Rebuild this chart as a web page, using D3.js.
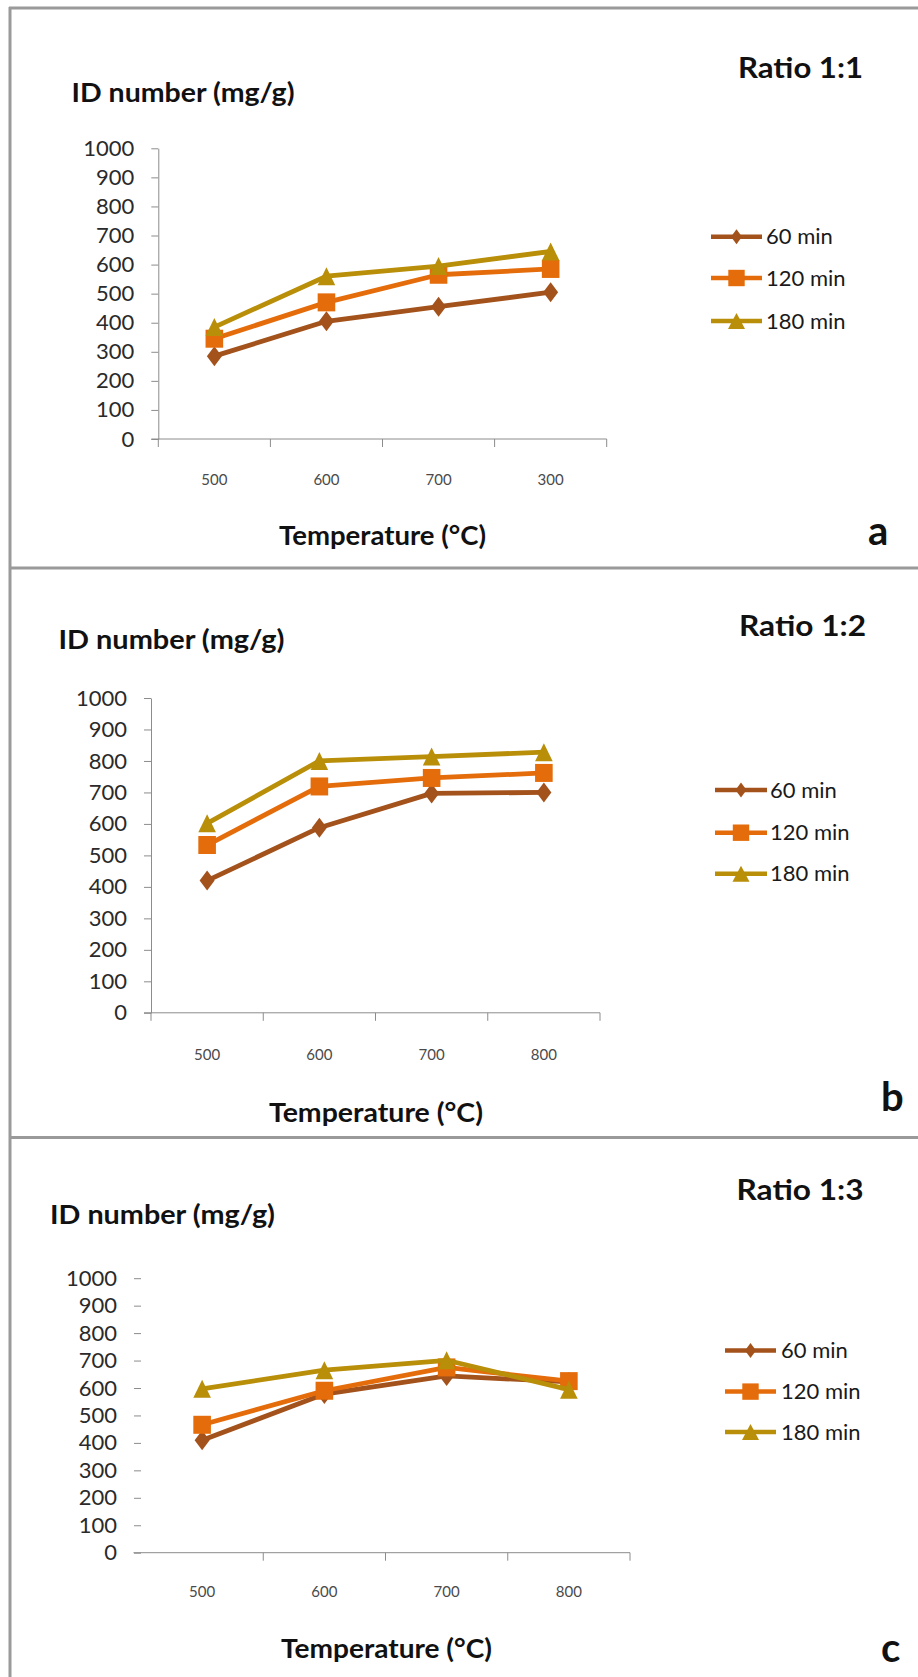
<!DOCTYPE html>
<html>
<head>
<meta charset="utf-8">
<script src="https://cdn.jsdelivr.net/npm/d3@7"></script>
<style>
  html, body { margin: 0; padding: 0; background: #fff; }
  svg { display: block; }
  text { font-family: Lato, "Open Sans", "Liberation Sans", sans-serif; }
</style>
</head>
<body>
<svg id="chart" width="918" height="1677"></svg>
<script>
// ---------- data ----------
const seriesNames = ["60 min", "120 min", "180 min"];
const seriesColors = ["#A3521B", "#E46C0A", "#B98E08"];
const seriesSymbols = ["diamond", "square", "triangle"];
const yTicks = [0, 100, 200, 300, 400, 500, 600, 700, 800, 900, 1000];

const categoriesA = ["500", "600", "700", "300"];
const categoriesB = ["500", "600", "700", "800"];
const categoriesC = ["500", "600", "700", "800"];

const a60  = [285, 405, 455, 505];
const a120 = [345, 470, 565, 585];
const a180 = [385, 560, 595, 645];

const b60  = [420, 588, 697, 700];
const b120 = [533, 719, 746, 762];
const b180 = [602, 800, 814, 828];

const c60  = [410, 578, 644, 622];
const c120 = [466, 590, 675, 625];
const c180 = [597, 665, 701, 594];

const titles = ["Ratio 1:1", "Ratio 1:2", "Ratio 1:3"];
const panelLetters = ["a", "b", "c"];
const yTitle = "ID number (mg/g)";
const xTitle = "Temperature (\u00B0C)";

// ---------- layout ----------
const panels = [
  { cats: categoriesA, data: [a60, a120, a180],
    x0: 158.3, x1: 606.7, axisStart: 151.3, yTop: 148.3, yBot: 439, showYLine: true, firstTick: true,
    xLabelY: 480, title: {x: 738, y: 78, w: 125}, yt: {x: 71.5, y: 101.5, w: 223},
    xt: {x: 279, y: 545, w: 207}, letter: {x: 868, y: 545},
    leg: {x0: 711, x1: 762, tx: 766, rows: [236.7, 278, 321]} },
  { cats: categoriesB, data: [b60, b120, b180],
    x0: 151, x1: 600, axisStart: 144, yTop: 698, yBot: 1012.8, showYLine: true, firstTick: true,
    xLabelY: 1055, title: {x: 739, y: 636, w: 127}, yt: {x: 58.5, y: 648.5, w: 226},
    xt: {x: 269, y: 1122, w: 214}, letter: {x: 881, y: 1111},
    leg: {x0: 715, x1: 767, tx: 770, rows: [790, 832.7, 873.7]} },
  { cats: categoriesC, data: [c60, c120, c180],
    x0: 141, x1: 630, axisStart: 133.5, yTop: 1278.2, yBot: 1552.7, showYLine: false, firstTick: false,
    xLabelY: 1592, title: {x: 736.5, y: 1200, w: 127}, yt: {x: 50, y: 1223.5, w: 225},
    xt: {x: 281, y: 1658, w: 211}, letter: {x: 881, y: 1662},
    leg: {x0: 725, x1: 776, tx: 781, rows: [1350.4, 1391.6, 1432]} }
];

const svg = d3.select("#chart");

// frame
const frameColor = "#9a9a9a";
svg.append("line").attr("x1", 10).attr("x2", 10).attr("y1", 7).attr("y2", 1677)
  .attr("stroke", frameColor).attr("stroke-width", 3);
[8, 568, 1137.5].forEach(yy => {
  svg.append("line").attr("x1", 9).attr("x2", 918).attr("y1", yy).attr("y2", yy)
    .attr("stroke", frameColor).attr("stroke-width", 3);
});

// marker shapes (half-width, half-height)
function markerPath(kind, hw, hh) {
  const p = d3.path();
  if (kind === "diamond") {
    p.moveTo(0, -hh); p.lineTo(hw, 0); p.lineTo(0, hh); p.lineTo(-hw, 0); p.closePath();
  } else if (kind === "square") {
    p.rect(-hw, -hh, 2 * hw, 2 * hh);
  } else {
    p.moveTo(0, -hh); p.lineTo(hw, hh); p.lineTo(-hw, hh); p.closePath();
  }
  return p.toString();
}
const markerDims = { diamond: [7.5, 10], square: [8.8, 9], triangle: [8.8, 9] };
const legendDims = { diamond: [5.5, 7.5], square: [8.2, 8.2], triangle: [8.5, 8] };

panels.forEach((p, pi) => {
  const g = svg.append("g");
  const x = d3.scaleBand().domain(p.cats).range([p.x0, p.x1]).paddingInner(0).paddingOuter(0);
  const y = d3.scaleLinear().domain([0, 1000]).range([p.yBot, p.yTop]);
  const cx = c => x(c) + x.bandwidth() / 2;

  // y axis
  const yAxis = d3.axisLeft(y).tickValues(yTicks).tickFormat(d3.format("d"))
    .tickSize(7).tickSizeOuter(0).tickPadding(17);
  const ya = g.append("g").attr("transform", `translate(${p.x0},0)`).call(yAxis);
  ya.selectAll("line").attr("stroke", "#8c8c8c");
  ya.select(".domain").attr("stroke", "#8c8c8c").attr("display", p.showYLine ? null : "none");
  ya.selectAll("text").attr("font-size", 22).attr("fill", "#2a2a2a")
    .attr("font-family", "Lato, 'Open Sans', sans-serif");

  // x axis line + boundary ticks
  g.append("line").attr("x1", p.axisStart).attr("x2", p.x1).attr("y1", y(0)).attr("y2", y(0))
    .attr("stroke", "#8c8c8c").attr("stroke-width", 1);
  const bounds = p.cats.map(c => x(c)).concat([x.range()[1]]);
  g.selectAll(".xtick").data(p.firstTick ? bounds : bounds.slice(1)).enter().append("line")
    .attr("x1", d => d).attr("x2", d => d).attr("y1", y(0)).attr("y2", y(0) + 8)
    .attr("stroke", "#8c8c8c");
  g.selectAll(".xlab").data(p.cats).enter().append("text")
    .attr("x", d => cx(d)).attr("y", p.xLabelY).attr("dy", "0.35em")
    .attr("text-anchor", "middle").attr("font-size", 15).attr("fill", "#4a4a4a")
    .text(d => d);

  // series
  p.data.forEach((vals, si) => {
    const pts = p.cats.map((c, i) => [cx(c), y(vals[i])]);
    g.append("path").attr("d", d3.line()(pts)).attr("fill", "none")
      .attr("stroke", seriesColors[si]).attr("stroke-width", 4.8).attr("stroke-linejoin", "round");
    const dims = markerDims[seriesSymbols[si]];
    g.selectAll(".m" + si).data(pts).enter().append("path")
      .attr("d", markerPath(seriesSymbols[si], dims[0], dims[1]))
      .attr("transform", d => `translate(${d[0]},${d[1]})`)
      .attr("fill", seriesColors[si]);
  });

  // legend
  seriesNames.forEach((name, si) => {
    const ry = p.leg.rows[si];
    g.append("line").attr("x1", p.leg.x0).attr("x2", p.leg.x1).attr("y1", ry).attr("y2", ry)
      .attr("stroke", seriesColors[si]).attr("stroke-width", 4.5);
    const dims = legendDims[seriesSymbols[si]];
    g.append("path").attr("d", markerPath(seriesSymbols[si], dims[0], dims[1]))
      .attr("transform", `translate(${(p.leg.x0 + p.leg.x1) / 2},${ry})`)
      .attr("fill", seriesColors[si]);
    g.append("text").attr("x", p.leg.tx).attr("y", ry).attr("dy", "0.35em")
      .attr("font-size", 22).attr("fill", "#1a1a1a").text(name);
  });

  // texts
  g.append("text").attr("x", p.title.x).attr("y", p.title.y).attr("font-size", 28)
    .attr("font-weight", "bold").attr("fill", "#111")
    .attr("textLength", p.title.w).attr("lengthAdjust", "spacingAndGlyphs").text(titles[pi]);
  g.append("text").attr("x", p.yt.x).attr("y", p.yt.y).attr("font-size", 27)
    .attr("font-weight", "bold").attr("fill", "#111")
    .attr("textLength", p.yt.w).attr("lengthAdjust", "spacingAndGlyphs").text(yTitle);
  g.append("text").attr("x", p.xt.x).attr("y", p.xt.y).attr("font-size", 26)
    .attr("font-weight", "bold").attr("fill", "#111")
    .attr("textLength", p.xt.w).attr("lengthAdjust", "spacingAndGlyphs").text(xTitle);
  g.append("text").attr("x", p.letter.x).attr("y", p.letter.y).attr("font-size", 40)
    .attr("font-weight", "bold").attr("fill", "#111").text(panelLetters[pi]);
});
</script>
</body>
</html>
